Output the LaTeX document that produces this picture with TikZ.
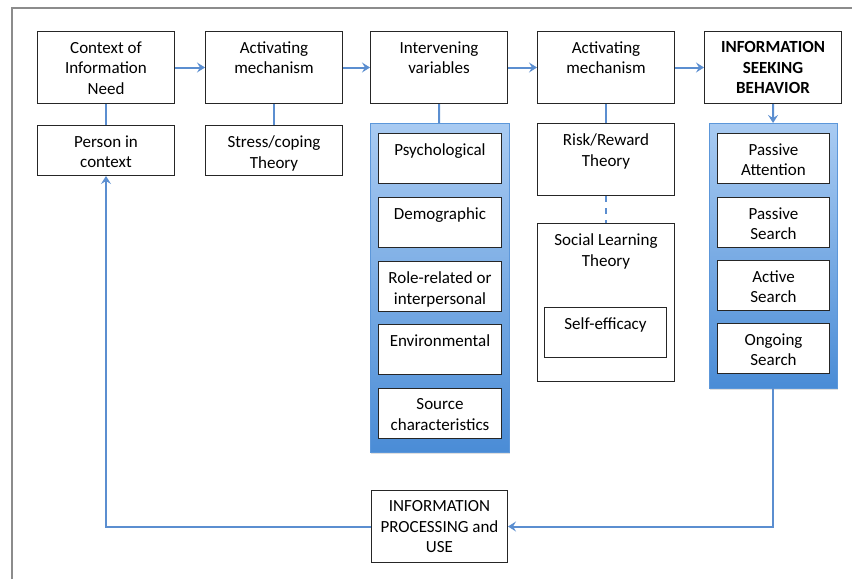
\documentclass[tikz,border=0pt]{standalone}
\usepackage{fontspec}
\setmainfont{Carlito}
\usetikzlibrary{arrows.meta,positioning,shadows}

\begin{document}
\begin{tikzpicture}[x=1pt, y=1pt,
    box/.style={draw=black!85, line width=1pt, fill=white, anchor=north west, inner sep=0pt},
    lab/.style={anchor=north, align=center, inner sep=0pt, yshift=-10.5pt, font=\fontsize{17}{20.5}\selectfont},
    boldlab/.style={lab, font=\fontsize{17}{20.5}\selectfont\bfseries},
    panel/.style={anchor=north west, inner sep=0pt, top color=C4, bottom color=C5, draw=C5!90,
        drop shadow={shadow xshift=1pt, shadow yshift=-2pt, opacity=0.25}},
    link/.style={draw=C0, line width=2pt},
    flow/.style={link, -{Stealth[length=8pt, width=10pt, inset=3pt]}}
]
    \definecolor{C0}{HTML}{5B8ED0}
    \definecolor{C4}{HTML}{A9CBF2}
    \definecolor{C5}{HTML}{4A8CD6}

    \useasboundingbox (0,0) rectangle (852,-579);

    % outer frame
    \coordinate (frame_bottom) at (12,-579);
    \coordinate (frame_corner) at (12,-8);
    \coordinate (frame_right) at (852,-8);
    \path[draw=black!45, line width=1.3pt] (frame_bottom) -- (frame_corner) -- (frame_right);

    % top row
    \node[box, minimum width=137, minimum height=72, label={[lab]north:{Context of\\Information\\Need}}] (context) at (37,-31) {};
    \node[box, minimum width=137, minimum height=72, label={[lab]north:{Activating\\mechanism}}] (activate_one) at (205,-31) {};
    \node[box, minimum width=137, minimum height=72, label={[lab]north:{Intervening\\variables}}] (intervening) at (370,-31) {};
    \node[box, minimum width=137, minimum height=72, label={[lab]north:{Activating\\mechanism}}] (activate_two) at (537,-31) {};
    \node[box, minimum width=137, minimum height=72, label={[boldlab]north:{INFORMATION\\SEEKING\\BEHAVIOR}}] (seeking) at (704,-31) {};

    % second row
    \node[box, minimum width=137, minimum height=50, label={[lab]north:{Person in\\context}}] (person) at (37,-125) {};
    \node[box, minimum width=137, minimum height=50, label={[lab]north:{Stress/coping\\Theory}}] (stress) at (205,-125) {};

    % intervening variables
    \node[panel, minimum width=139, minimum height=329] (variables) at (370,-123) {};
    \node[box, minimum width=123, minimum height=50, label={[lab]north:{Psychological}}] (psych) at (378,-133) {};
    \node[box, minimum width=123, minimum height=50, label={[lab]north:{Demographic}}] (demo) at (378,-197) {};
    \node[box, minimum width=123, minimum height=50, label={[lab]north:{Role-related or\\interpersonal}}] (role) at (378,-261) {};
    \node[box, minimum width=123, minimum height=50, label={[lab]north:{Environmental}}] (environ) at (378,-324) {};
    \node[box, minimum width=123, minimum height=50, label={[lab]north:{Source\\characteristics}}] (source) at (378,-388) {};

    % theories
    \node[box, minimum width=137, minimum height=72, label={[lab]north:{Risk/Reward\\Theory}}] (risk) at (537,-123) {};
    \node[box, minimum width=137, minimum height=158, label={[lab]north:{Social Learning\\Theory}}] (social) at (537,-223) {};
    \node[box, minimum width=122, minimum height=50, label={[lab]north:{Self-efficacy}}] (efficacy) at (544,-307) {};

    % seeking behaviours
    \node[panel, minimum width=128, minimum height=265] (behaviours) at (709,-123) {};
    \node[box, minimum width=112, minimum height=50, label={[lab]north:{Passive\\Attention}}] (pass_attn) at (717,-133) {};
    \node[box, minimum width=112, minimum height=50, label={[lab]north:{Passive\\Search}}] (pass_search) at (717,-197) {};
    \node[box, minimum width=112, minimum height=50, label={[lab]north:{Active\\Search}}] (act_search) at (717,-260) {};
    \node[box, minimum width=112, minimum height=50, label={[lab]north:{Ongoing\\Search}}] (ongoing) at (717,-323) {};

    % bottom
    \node[box, minimum width=136, minimum height=72, label={[lab]north:{INFORMATION\\PROCESSING and\\USE}}] (processing) at (371,-490) {};

    % connectors
    \path[flow] (context) -- (activate_one);
    \path[flow] (activate_one) -- (intervening);
    \path[flow] (intervening) -- (activate_two);
    \path[flow] (activate_two) -- (seeking);
    \path[link] (context) -- (person);
    \path[link] (activate_one) -- (stress);
    \path[link] (intervening) -- (variables);
    \path[link] (activate_two) -- (risk);
    \path[link, dashed, dash pattern=on 6pt off 6pt] (risk) -- (social);
    \path[flow] (seeking) -- (behaviours);
    \path[flow] (behaviours.south) |- (processing.east);
    \path[flow] (processing.west) -| (person.south);

\end{tikzpicture}
\end{document}
